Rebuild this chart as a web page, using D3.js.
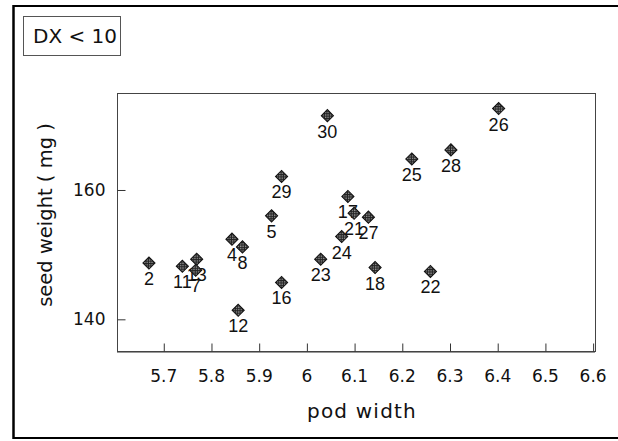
<!DOCTYPE html>
<html><head><meta charset="utf-8">
<script src="https://cdn.jsdelivr.net/npm/d3@7"></script>
<style>html,body{margin:0;padding:0;background:#fff;}svg{display:block;}</style>
</head><body>
<script>
const ids = ["2","11","13","7","4","8","12","5","29","16","30","23","24","17","21","27","18","22","25","28","26"];
const podWidth = [5.670,5.740,5.770,5.768,5.844,5.866,5.857,5.927,5.948,5.948,6.044,6.030,6.074,6.087,6.100,6.130,6.144,6.260,6.221,6.303,6.403];
const seedWeight = [148.7,148.2,149.3,147.6,152.4,151.2,141.4,156.0,162.1,145.7,171.5,149.3,152.8,159.0,156.4,155.8,148.0,147.4,164.8,166.2,172.6];
const xTicks = [5.7,5.8,5.9,6.0,6.1,6.2,6.3,6.4,6.5,6.6];
const xTickLabels = ["5.7","5.8","5.9","6","6.1","6.2","6.3","6.4","6.5","6.6"];
const yTicks = [140,160];
const yTickLabels = ["140","160"];
const titleText = "DX < 10";
const xLabel = "pod width";
const yLabel = "seed weight ( mg )";

const W = 618, H = 441;
const L = 117, R = 595, T = 93, B = 351;
const AX_FONT = "'DejaVu Sans', Verdana, sans-serif";
const svg = d3.select("body").append("svg").attr("width", W).attr("height", H);

const defs = svg.append("defs");
const pat = defs.append("pattern").attr("id","chk").attr("patternUnits","userSpaceOnUse")
  .attr("width",2.4).attr("height",2.4).attr("patternTransform","rotate(45)");
pat.append("rect").attr("width",2.4).attr("height",2.4).attr("fill","#222");
pat.append("rect").attr("x",1.2).attr("y",1.2).attr("width",1.0).attr("height",1.0).attr("fill","#eee");

// outer frame
svg.append("line").attr("x1",13).attr("x2",W).attr("y1",6).attr("y2",6).attr("stroke","#000").attr("stroke-width",2);
svg.append("line").attr("x1",13).attr("x2",W).attr("y1",438).attr("y2",438).attr("stroke","#000").attr("stroke-width",2);
svg.append("line").attr("x1",13.5).attr("x2",13.5).attr("y1",5).attr("y2",439).attr("stroke","#000").attr("stroke-width",2.5);

// title box
svg.append("rect").attr("x",23.5).attr("y",16.5).attr("width",97).attr("height",39).attr("fill","none").attr("stroke","#555").attr("stroke-width",1);
svg.append("text").attr("x",75).attr("y",42.5).attr("text-anchor","middle")
  .attr("font-family",AX_FONT).attr("font-size",20).attr("fill","#111").text(titleText);

const x = d3.scaleLinear().domain([5.603, 6.605]).range([L, R]);
const y = d3.scaleLinear().domain([135.1, 175.0]).range([B, T]);

// plot frame
svg.append("rect").attr("x",L+0.5).attr("y",T+0.5).attr("width",R-L).attr("height",B-T)
  .attr("fill","none").attr("stroke","#444").attr("stroke-width",1);
svg.append("line").attr("x1",L).attr("x2",R).attr("y1",B+1.5).attr("y2",B+1.5).attr("stroke","#999").attr("stroke-width",1);

// x axis ticks (inward)
const xAxis = d3.axisBottom(x).tickValues(xTicks).tickSizeInner(-8).tickSizeOuter(0)
  .tickPadding(18).tickFormat((d,i)=>xTickLabels[i]);
const gx = svg.append("g").attr("transform",`translate(0,${B+0.5})`).call(xAxis);
gx.select(".domain").remove();
gx.selectAll(".tick line").attr("stroke","#333").attr("transform","translate(0.5,0)");
gx.selectAll(".tick text").attr("font-family",AX_FONT).attr("font-size",17).attr("fill","#111");

const yAxis = d3.axisLeft(y).tickValues(yTicks).tickSizeInner(-8).tickSizeOuter(0)
  .tickPadding(12).tickFormat((d,i)=>yTickLabels[i]);
const gy = svg.append("g").attr("transform",`translate(${L+0.5},0)`).call(yAxis);
gy.select(".domain").remove();
gy.selectAll(".tick line").attr("stroke","#333");
gy.selectAll(".tick text").attr("font-family",AX_FONT).attr("font-size",17).attr("fill","#111");

svg.append("text").attr("x",362).attr("y",418).attr("text-anchor","middle")
  .attr("font-family",AX_FONT).attr("font-size",20).attr("letter-spacing",1.2).attr("fill","#111").text(xLabel);
svg.append("text").attr("transform","translate(52,215) rotate(-90)").attr("text-anchor","middle")
  .attr("font-family",AX_FONT).attr("font-size",19.5).attr("fill","#111").text(yLabel);

const data = ids.map((id,i)=>({id, x: podWidth[i], y: seedWeight[i]}));
const pts = svg.append("g").selectAll("g").data(data).join("g")
  .attr("transform", d=>`translate(${x(d.x)},${y(d.y)})`);
pts.append("rect").attr("x",-4.3).attr("y",-4.3).attr("width",8.6).attr("height",8.6)
  .attr("transform","rotate(45)").attr("fill","url(#chk)").attr("stroke","#111").attr("stroke-width",1);
pts.append("text").attr("y",22).attr("text-anchor","middle")
  .attr("font-family","'Liberation Sans', Arial, sans-serif").attr("font-size",18).attr("fill","#111")
  .text(d=>d.id);
</script>
</body></html>
